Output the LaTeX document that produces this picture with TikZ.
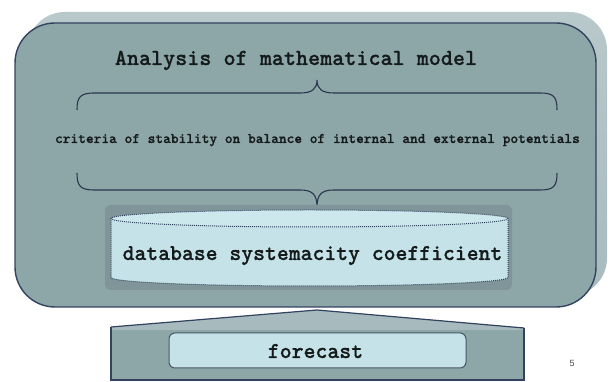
\documentclass[tikz,border=0pt]{standalone}
\usepackage{fontspec}
\newfontfamily\numfont{Liberation Sans}
\newfontfamily\tyfont{lmmonolt10-bold.otf}[FakeBold=0.7]
\definecolor{facec}{HTML}{8DA7A9}
\definecolor{bevelc}{HTML}{A7BBBE}
\definecolor{bevtop}{HTML}{B8C8CB}
\definecolor{navy}{HTML}{33435F}
\definecolor{cylc}{HTML}{C4E2E7}
\definecolor{cyltop}{HTML}{CDE8EC}
\definecolor{shadc}{HTML}{80959A}
\definecolor{txtc}{HTML}{151A1A}
\tikzset{
  facebox/.style={fill=facec, draw=navy, line width=1.4pt, rounded corners=40pt},
  bracepath/.style={draw=navy!80!black, line width=1.1pt},
  cyloutline/.style={draw=navy, line width=1pt, densely dotted},
  monotext/.style={text=txtc, inner sep=0pt},
}
\begin{document}
\begin{tikzpicture}[x=1pt,y=1pt]
\useasboundingbox (0,0) rectangle (612,382);
% back bevel of main box
\shade[top color=bevtop, bottom color=bevelc, rounded corners=38pt] (27,86) rectangle (607,370);
% main face
\path[facebox] (15,75) rectangle (596,359);
% title
\node[monotext, font=\tyfont\fontsize{23}{26}\selectfont, anchor=base] (title) at (296,317) {Analysis of mathematical model};
% top brace
\draw[bracepath] (77,272) .. controls (77,285) and (80,289) .. (95,289) -- (300,289)
  .. controls (312,289) and (317,293) .. (317,302)
  .. controls (317,293) and (322,289) .. (334,289) -- (540,289)
  .. controls (554,289) and (557,285) .. (557,272);
% criteria
\node[monotext, font=\tyfont\fontsize{14.7}{17}\selectfont, anchor=base] (crit) at (317.5,239) {criteria of stability on balance of internal and external potentials};
% bottom brace
\draw[bracepath] (77,209) .. controls (77,196) and (80,192) .. (95,192) -- (300,192)
  .. controls (312,192) and (317,188) .. (317,175)
  .. controls (317,188) and (322,192) .. (334,192) -- (540,192)
  .. controls (554,192) and (557,196) .. (557,209);
% cylinder shadow
\fill[shadc, rounded corners=5pt] (105,92) rectangle (512,177);
% cylinder body
\fill[cylc] (111,104.5) -- (111,163.5) -- (508,163.5) -- (508,104.5)
  arc[start angle=0, end angle=-180, x radius=198.5pt, y radius=8.5pt] -- cycle;
\draw[cyloutline] (111,163.5) -- (111,104.5)
  arc[start angle=180, end angle=360, x radius=198.5pt, y radius=8.5pt] -- (508,163.5);
\filldraw[fill=cyltop, cyloutline] (309.5,163.5) ellipse [x radius=198.5pt, y radius=8.5pt];
\node[monotext, font=\tyfont\fontsize{22.6}{26}\selectfont, anchor=base] (db) at (312.5,122) {database systemacity coefficient};
% forecast block
\path[fill=facec] (111,2) -- (111,55) -- (317,72) -- (524,54) -- (524,2) -- cycle;
\path[fill=bevelc] (111,55) -- (317,72) -- (524,54) -- (524,52) -- (111,52) -- cycle;
\draw[navy, line width=1.4pt] (524,54) -- (524,2) -- (111,2) -- (111,55);
\draw[navy, line width=1.2pt] (111,55) -- (317,72) -- (524,54);
\draw[fill=cylc, draw=navy!70!gray, line width=1pt, rounded corners=6pt] (169,14) rectangle (466,49);
\node[monotext, font=\tyfont\fontsize{22.7}{26}\selectfont, anchor=base] (fc) at (315.5,24) {forecast};
% page number
\node[font=\numfont\fontsize{9}{10}\selectfont, text=black!70] (pg) at (572,19) {5};
\end{tikzpicture}
\end{document}
